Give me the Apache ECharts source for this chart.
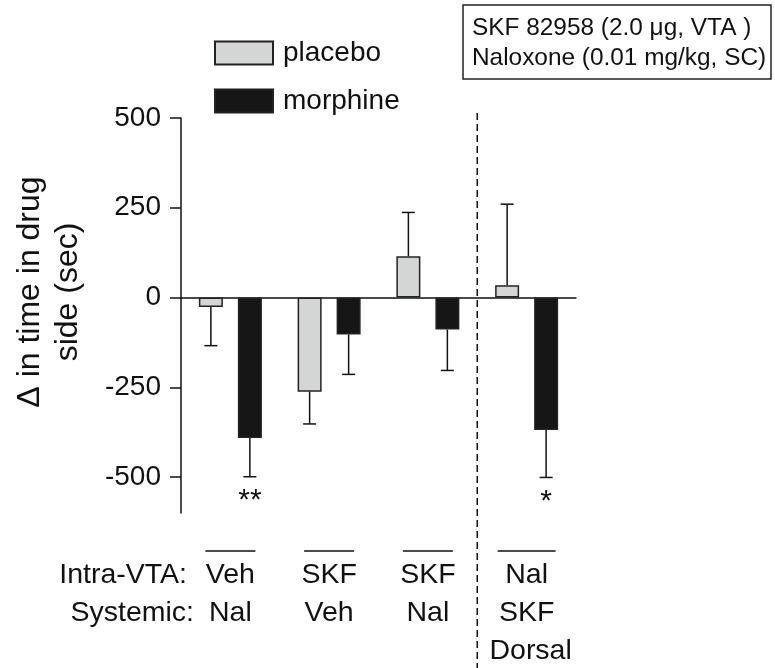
<!DOCTYPE html>
<html>
<head>
<meta charset="utf-8">
<script src="https://cdn.jsdelivr.net/npm/echarts@6/dist/echarts.min.js"></script>
<style>
  html, body { margin: 0; padding: 0; background: #fff; }
  #chart { width: 775px; height: 668px; }
</style>
</head>
<body>
<div id="chart"></div>
<script>
// groups along the x axis
const groups = ['veh-nal', 'skf-veh', 'skf-nal', 'nal-skf-dorsal'];
const intraVTA = ['Veh', 'SKF', 'SKF', 'Nal'];
const systemic = ['Nal', 'Veh', 'Nal', 'SKF'];
const site = ['', '', '', 'Dorsal'];

// Δ time in drug side (sec), mean and SEM
const placebo = [-26, -262, 115, 34];
const placeboErr = [108, 90, 122, 226];
const morphine = [-391, -103, -89, -369];
const morphineErr = [108, 111, 114, 132];
const morphineStars = ['**', '', '', '*'];

const yTicks = [-500, -250, 0, 250, 500];

const FONT = '"Liberation Sans", Arial, Helvetica, sans-serif';
const INK = '#111';
const BAR_W = 24;
const BAR_GAP = 15;
const OFF = (BAR_W + BAR_GAP) / 2;

const chart = echarts.init(document.getElementById('chart'));

function errorSeries(values, errs, stars, offset) {
  return {
    type: 'custom',
    z: 5,
    silent: true,
    data: values.map((v, i) => [i, v, errs[i]]),
    encode: { x: 0, y: 1 },
    renderItem: function (params, api) {
      const i = api.value(0), v = api.value(1), e = api.value(2);
      const end = v + Math.sign(v) * e;
      const x = api.coord([i, 0])[0] + offset;
      const y0 = api.coord([i, v])[1];
      const y1 = api.coord([i, end])[1];
      const kids = [
        { type: 'line', shape: { x1: x, y1: y0, x2: x, y2: y1 }, style: { stroke: INK, lineWidth: 1.5 } },
        { type: 'line', shape: { x1: x - 6.5, y1: y1, x2: x + 6.5, y2: y1 }, style: { stroke: INK, lineWidth: 1.5 } }
      ];
      const s = stars ? stars[params.dataIndex] : '';
      if (s) {
        kids.push({
          type: 'text',
          style: { text: s, x: x, y: y1 + 9, align: 'center', verticalAlign: 'top',
                   font: '30px ' + FONT, fill: INK }
        });
      }
      return { type: 'group', children: kids };
    }
  };
}

chart.setOption({
  animation: false,
  backgroundColor: '#fff',
  grid: { left: 181, right: 199, top: 118, bottom: 155 },
  legend: {
    orient: 'vertical',
    left: 209,
    top: 34,
    itemWidth: 58,
    itemHeight: 23,
    itemGap: 20,
    icon: 'rect',
    data: ['placebo', 'morphine'],
    textStyle: { fontSize: 28, fontFamily: FONT, color: INK, padding: [0, 0, 0, 5] }
  },
  xAxis: {
    type: 'category',
    data: groups,
    axisLine: { onZero: true, lineStyle: { color: INK, width: 1.5 } },
    axisTick: { show: false },
    axisLabel: { show: false }
  },
  yAxis: {
    type: 'value',
    min: -600,
    max: 500,
    splitLine: { show: false },
    axisLine: { show: true, lineStyle: { color: INK, width: 1.5 } },
    axisTick: { show: true, length: 11, customValues: yTicks, lineStyle: { color: INK, width: 1.5 } },
    axisLabel: { customValues: yTicks, fontSize: 28, fontFamily: FONT, color: INK, margin: 20 }
  },
  series: [
    {
      name: 'placebo',
      type: 'bar',
      data: placebo,
      barWidth: BAR_W,
      barGap: (BAR_GAP / BAR_W * 100) + '%',
      itemStyle: { color: '#d4d6d5', borderColor: '#222', borderWidth: 1.5 }
    },
    {
      name: 'morphine',
      type: 'bar',
      data: morphine,
      barWidth: BAR_W,
      itemStyle: { color: '#161616', borderColor: '#222', borderWidth: 1.5 }
    },
    errorSeries(placebo, placeboErr, null, -OFF),
    errorSeries(morphine, morphineErr, morphineStars, OFF)
  ]
});

// annotations placed from the axis scale
const cx = groups.map((g, i) => chart.convertToPixel({ xAxisIndex: 0 }, i));
const divider = (cx[2] + cx[3]) / 2;
const textStyle = (t, x, y, align, size) => ({
  type: 'text',
  style: { text: t, x: x, y: y, align: align, verticalAlign: 'middle',
           font: size + 'px ' + FONT, fill: INK }
});

const graphics = [
  // y axis title
  { type: 'text', rotation: Math.PI / 2, x: 30, y: 292,
    style: { text: 'Δ in time in drug', align: 'center', verticalAlign: 'middle', font: '32px ' + FONT, fill: INK } },
  { type: 'text', rotation: Math.PI / 2, x: 68, y: 292,
    style: { text: 'side (sec)', align: 'center', verticalAlign: 'middle', font: '32px ' + FONT, fill: INK } },
  // dose box
  { type: 'rect', shape: { x: 463, y: 5, width: 308, height: 74 },
    style: { fill: 'none', stroke: '#222', lineWidth: 1.5 } },
  textStyle('SKF 82958 (2.0 μg, VTA )', 472, 28, 'left', 24.4),
  textStyle('Naloxone (0.01 mg/kg, SC)', 472, 58, 'left', 24.4),
  // divider
  { type: 'line', shape: { x1: divider, y1: 113, x2: divider, y2: 668 },
    style: { stroke: INK, lineWidth: 1.5, lineDash: [7, 4] } },
  // row headers
  textStyle('Intra-VTA:', 187, 575, 'right', 28.5),
  textStyle('Systemic:', 194, 613, 'right', 28.5)
];

cx.forEach((x, i) => {
  const half = i === 3 ? 29 : 25;
  graphics.push({ type: 'line', shape: { x1: x - half, y1: 551, x2: x + half, y2: 551 },
                  style: { stroke: INK, lineWidth: 1.5 } });
  graphics.push(textStyle(intraVTA[i], x, 575, 'center', 28.5));
  graphics.push(textStyle(systemic[i], x, 613, 'center', 28.5));
  if (site[i]) graphics.push(textStyle(site[i], x + 4, 651, 'center', 28.5));
});

chart.setOption({ graphic: graphics });
</script>
</body>
</html>
